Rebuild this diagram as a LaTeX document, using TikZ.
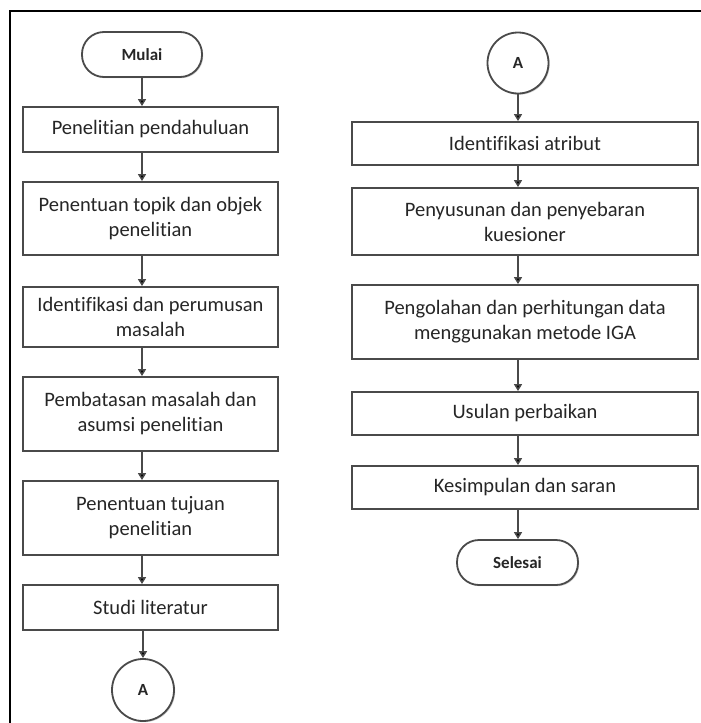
\documentclass[tikz,border=0pt]{standalone}
\usepackage{fontspec}
\setmainfont{Carlito}[Ligatures=NoCommon]
\usetikzlibrary{arrows.meta,shadows}
\definecolor{boxline}{HTML}{4A4A4A}
\definecolor{txt}{HTML}{262626}
\tikzset{
  stepbox/.style={draw=boxline, line width=1.8pt, fill=white, align=center, text=txt,
    font=\fontsize{20.5}{25}\selectfont, inner sep=0pt,
    drop shadow={shadow xshift=1.2pt, shadow yshift=-1.2pt, opacity=0.35}},
  termbox/.style={stepbox, rounded corners=22pt, font=\fontsize{17}{20}\selectfont\bfseries},
  conn/.style={stepbox, circle, inner sep=0pt, font=\fontsize{17}{20}\selectfont\bfseries},
  arr/.style={draw=boxline, line width=1.5pt, -{Triangle[width=8pt,length=7pt,fill=black]}},
}
\begin{document}
\begin{tikzpicture}[x=1pt,y=-1pt]
\useasboundingbox (0,0) rectangle (701,723);
\fill[white] (0,0) rectangle (701,723);
\draw[line width=2pt, black] (10,723) -- (10,11) -- (701,11);
% left column
\node[termbox, minimum width=120pt, minimum height=45pt] (m) at (142,54.5) {Mulai};
\node[stepbox, minimum width=255pt, minimum height=45pt] (b1) at (150.5,129.5) {Penelitian pendahuluan};
\node[stepbox, minimum width=255pt, minimum height=73pt] (b2) at (150.5,218.5) {Penentuan topik dan objek\\penelitian};
\node[stepbox, minimum width=255pt, minimum height=60pt] (b3) at (150.5,317) {Identifikasi dan perumusan\\masalah};
\node[stepbox, minimum width=255pt, minimum height=74pt] (b4) at (150.5,414) {Pembatasan masalah dan\\asumsi penelitian};
\node[stepbox, minimum width=255pt, minimum height=74pt] (b5) at (150.5,518) {Penentuan tujuan\\penelitian};
\node[stepbox, minimum width=255pt, minimum height=45pt] (b6) at (150.5,607.5) {Studi literatur};
\node[conn, minimum size=62pt] (a1) at (143,690) {A};
\draw[arr] (m.south) -- (b1.north -| m.south);
\draw[arr] (b1.south -| m.south) -- (b2.north -| m.south);
\draw[arr] (b2.south -| m.south) -- (b3.north -| m.south);
\draw[arr] (b3.south -| m.south) -- (b4.north -| m.south);
\draw[arr] (b4.south -| m.south) -- (b5.north -| m.south);
\draw[arr] (b5.south -| m.south) -- (b6.north -| m.south);
\draw[arr] (b6.south -| a1.north) -- (a1.north);
% right column
\node[conn, minimum size=61pt] (a2) at (518,63) {A};
\node[stepbox, minimum width=346pt, minimum height=43pt] (r1) at (525,143.5) {Identifikasi atribut};
\node[stepbox, minimum width=346pt, minimum height=67pt] (r2) at (525,221.5) {Penyusunan dan penyebaran\\kuesioner};
\node[stepbox, minimum width=346pt, minimum height=74pt] (r3) at (525,322) {Pengolahan dan perhitungan data\\menggunakan metode IGA};
\node[stepbox, minimum width=346pt, minimum height=43pt] (r4) at (525,413.5) {Usulan perbaikan};
\node[stepbox, minimum width=346pt, minimum height=43pt] (r5) at (525,487.5) {Kesimpulan dan saran};
\node[termbox, minimum width=121pt, minimum height=45pt] (s) at (517.5,562.5) {Selesai};
\draw[arr] (a2.south) -- (r1.north -| a2.south);
\draw[arr] (r1.south -| a2.south) -- (r2.north -| a2.south);
\draw[arr] (r2.south -| a2.south) -- (r3.north -| a2.south);
\draw[arr] (r3.south -| a2.south) -- (r4.north -| a2.south);
\draw[arr] (r4.south -| a2.south) -- (r5.north -| a2.south);
\draw[arr] (r5.south -| a2.south) -- (s.north -| a2.south);
\end{tikzpicture}
\end{document}
